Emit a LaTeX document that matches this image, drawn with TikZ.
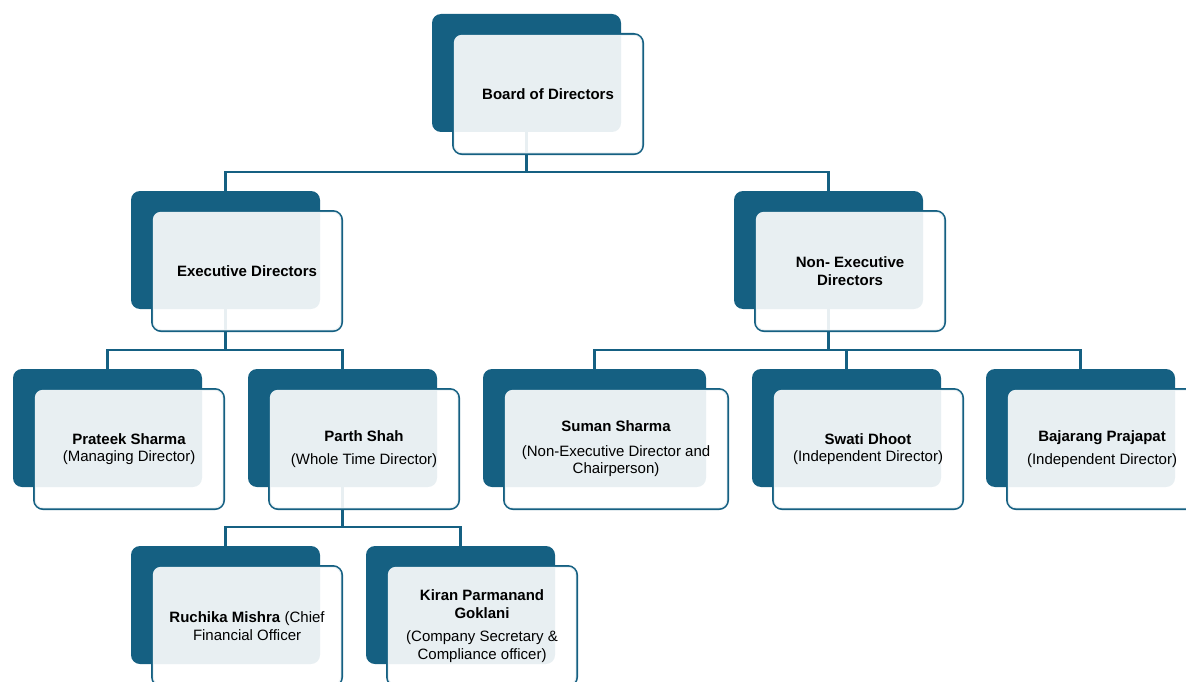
\documentclass[tikz,border=0pt]{standalone}
\usepackage{fontspec}
\setmainfont{Liberation Sans}
\usepackage{tikz}
\usetikzlibrary{backgrounds}
\definecolor{deepteal}{HTML}{156082}
\tikzset{
  backbox/.style={fill=deepteal, rounded corners=9pt, minimum height=118pt,
    inner sep=0pt, outer sep=0pt},
  frontbox/.style={draw=deepteal, line width=2.6pt, rounded corners=9pt,
    minimum height=119.5pt, inner sep=0pt},
  veil/.style={fill=white, fill opacity=0.9, rounded corners=8pt},
  boxtext/.style={align=center, inner sep=0pt,
    font=\fontsize{15}{17.5}\selectfont},
  link/.style={draw=deepteal, line width=2.6pt}
}
% #1 name, #2 x, #3 y (corner of the dark box), #4 extra width, #5 text
\newcommand{\orgbox}[5]{%
  \node[frontbox, minimum width=189.5+#4, anchor=north west] (#1-f) at (#2+20,#3+19) {};
  \node[backbox, minimum width=189+#4, anchor=north west] (#1-b) at (#2,#3) {};
  \fill[veil] ([shift={(1.8,1.8)}]#1-f.north west) rectangle
    ([shift={(-1.8,-1.8)}]#1-f.south east);
  \node[boxtext] (#1) at (#1-f.center) {#5};
}

\begin{document}
\begin{tikzpicture}[x=1pt,y=-1pt]
  \useasboundingbox (0,0) rectangle (1186,682);
  \clip (0,0) rectangle (1186,682);
  % boxes
  \orgbox{bod}{432}{14}{0}{\textbf{Board of Directors}}
  \orgbox{exd}{131}{191}{0}{\textbf{Executive Directors}}
  \orgbox{ned}{734}{191}{0}{\textbf{Non- Executive}\\\textbf{Directors}}
  \orgbox{pra}{13}{369}{0}{\textbf{Prateek Sharma}\\(Managing Director)}
  \orgbox{par}{248}{369}{0}{\textbf{Parth Shah}\\[5pt](Whole Time Director)}
  \orgbox{sum}{483}{369}{34}{\textbf{Suman Sharma}\\[7pt](Non-Executive Director and\\Chairperson)}
  \orgbox{swa}{752}{369}{0}{\textbf{Swati Dhoot}\\(Independent Director)}
  \orgbox{baj}{986}{369}{0}{\textbf{Bajarang Prajapat}\\[5pt](Independent Director)}
  \orgbox{ruc}{131}{546}{0}{\textbf{Ruchika Mishra} (Chief\\Financial Officer}
  \orgbox{kir}{366}{546}{0}{\textbf{Kiran Parmanand}\\\textbf{Goklani}\\[6pt](Company Secretary \&\\Compliance officer)}
  % connectors
  \coordinate (bar1) at (0,172);
  \coordinate (bar2) at (0,350);
  \coordinate (bar3) at (0,527);
  \begin{scope}[on background layer]
    \draw[link] (bod-b.center) -- (bod-b.center |- bar1) -| (exd-b.north);
    \draw[link] (bod-b.center |- bar1) -| (ned-b.north);
    \draw[link] (exd-b.center) -- (exd-b.center |- bar2) -| (pra-b.north);
    \draw[link] (exd-b.center |- bar2) -| (par-b.north);
    \draw[link] (ned-b.center) -- (ned-b.center |- bar2) -| (sum-b.north);
    \draw[link] (ned-b.center |- bar2) -| (swa-b.north);
    \draw[link] (ned-b.center |- bar2) -| (baj-b.north);
    \draw[link] (par-b.center) -- (par-b.center |- bar3) -| (ruc-b.north);
    \draw[link] (par-b.center |- bar3) -| (kir-b.north);
  \end{scope}
\end{tikzpicture}
\end{document}
